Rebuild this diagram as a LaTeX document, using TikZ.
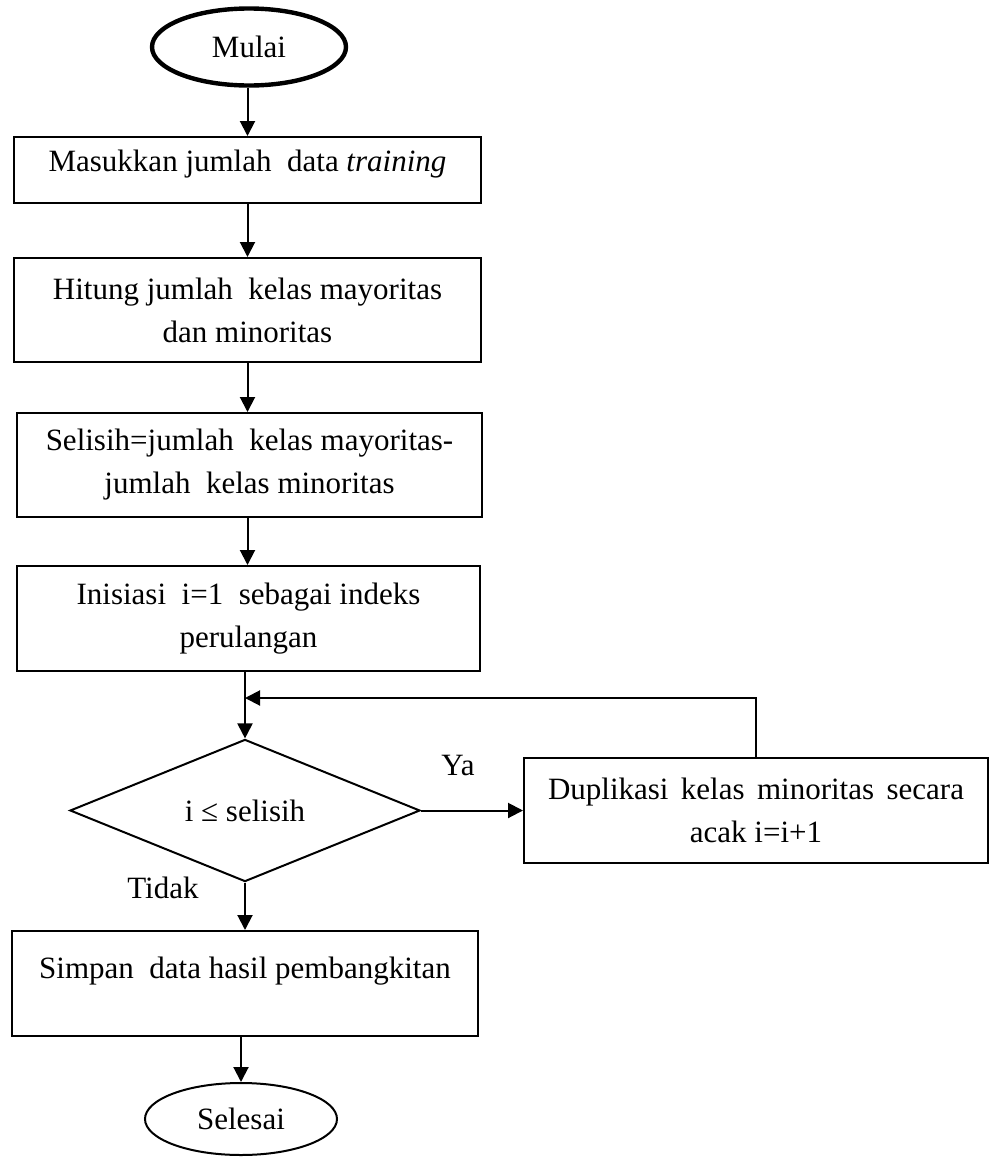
\documentclass[tikz,border=0pt]{standalone}
\usepackage{fontspec}
\setmainfont{Liberation Serif}
\usetikzlibrary{shapes.geometric,arrows.meta}
\begin{document}
\begin{tikzpicture}[x=0.5pt,y=-0.5pt,
  base/.style={font=\fontsize{15.5pt}{21.5pt}\selectfont, inner sep=0pt},
  box/.style={base, draw, line width=1pt, rectangle, align=center},
  term/.style={base, draw, ellipse},
  decision/.style={base, draw, diamond, line width=1pt, minimum width=175pt, minimum height=69.5pt},
  arr/.style={line width=1pt, -{Triangle[length=7.5pt,width=7.5pt]}},
  lbl/.style={base}]
\useasboundingbox (0,0) rectangle (994,1157);

\node[term, line width=2.2pt, minimum width=97pt, minimum height=38.5pt] (mulai) at (249,47) {Mulai};
\node[box, minimum width=233.5pt, minimum height=33pt] (b1) at (247.5,170)
  {\raisebox{3pt}[\height][\depth]{Masukkan jumlah\ \ data \textit{training}}};
\node[box, minimum width=233.5pt, minimum height=52pt] (b2) at (247.5,310)
  {Hitung jumlah\ \ kelas mayoritas\\dan minoritas};
\node[box, minimum width=232.5pt, minimum height=52pt] (b3) at (249.5,465)
  {Selisih=jumlah\ \ kelas mayoritas-\\jumlah\ \ kelas minoritas};
\node[box, minimum width=231.5pt, minimum height=52.5pt] (b4) at (248.5,618.5)
  {Inisiasi\ \ i=1\ \ sebagai indeks\\perulangan};
\node[decision] (dec) at (245,810.5) {i ≤ selisih};
\node[box, minimum width=232pt, minimum height=52.5pt] (b5) at (756,810.5)
  {\makebox[208pt][s]{Duplikasi kelas minoritas secara}\\acak i=i+1};
\node[box, minimum width=233pt, minimum height=52.5pt] (b6) at (245,983.5)
  {\raisebox{6pt}[\height][\depth]{Simpan\ \ data hasil pembangkitan}};
\node[term, line width=1pt, minimum width=96pt, minimum height=36pt] (selesai) at (241,1119) {Selesai};

\node[lbl] (ya) at (458,765) {Ya};
\node[lbl] (tidak) at (163,888) {Tidak};

\coordinate (lj) at (245,698);

\draw[arr] (mulai.south -| b1) -- (b1.north);
\draw[arr] (b1) -- (b2);
\draw[arr] (b2.south -| b1) -- (b3.north -| b1);
\draw[arr] (b3.south -| b1) -- (b4.north -| b1);
\draw[line width=1pt] (b4.south -| lj) -- (lj);
\draw[arr] (lj) -- (dec.north);
\draw[arr] (b5.north) |- (lj);
\draw[arr] (dec.east) -- (b5.west);
\draw[arr] (dec.south) -- (b6.north -| dec.south);
\draw[arr] (b6.south -| selesai) -- (selesai.north);
\end{tikzpicture}
\end{document}
